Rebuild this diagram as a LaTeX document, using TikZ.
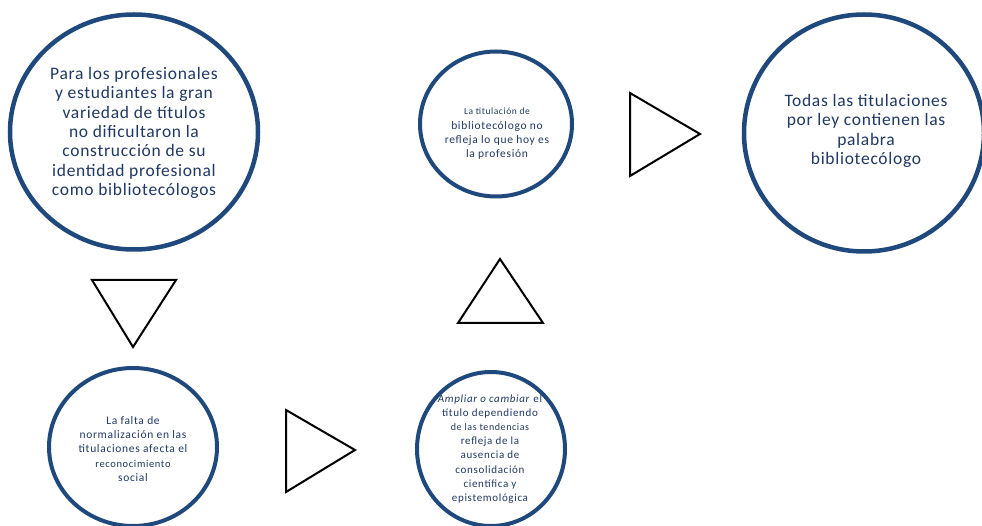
\documentclass[tikz,border=0pt]{standalone}
\usepackage{fontspec}
\setmainfont{Carlito}
\newfontfamily\bigf[LetterSpace=4]{Carlito}
\newfontfamily\smallf[LetterSpace=6]{Carlito}
\usetikzlibrary{shapes.geometric}
\definecolor{ringblue}{RGB}{31,73,125}
\definecolor{txtblue}{RGB}{32,56,100}
\tikzset{
  ring/.style={draw=ringblue, line width=4.5pt, ellipse, inner sep=0pt, fill=white},
  smallring/.style={draw=ringblue, line width=4pt, ellipse, inner sep=0pt, fill=white},
  bigtext/.style={text=txtblue, align=center, font=\bigf\fontsize{17.5}{19.4}\selectfont, inner sep=0pt},
  smalltext/.style={text=txtblue, align=center, font=\smallf\fontsize{11.5}{14.3}\selectfont, inner sep=0pt},
  tri/.style={draw=black, line width=2pt, line join=miter, fill=white}
}
\begin{document}
\begin{tikzpicture}[x=1pt,y=-1pt]
\useasboundingbox (0,0) rectangle (982,526);
% circles
\node[ring, minimum width=248pt, minimum height=235pt] (c1) at (134,132) {};
\node[smallring, minimum width=152pt, minimum height=145pt] (c2) at (496,124) {};
\node[ring, minimum width=240pt, minimum height=237pt] (c3) at (864,133) {};
\node[smallring, minimum width=168pt, minimum height=158pt] (c4) at (133,447) {};
\node[smallring, minimum width=148pt, minimum height=154pt] (c5) at (491,449) {};
% texts
\node[bigtext] (t1) at (134,133) {Para los profesionales\\ y estudiantes  la gran\\ variedad de  títulos\\ no dificultaron la\\ construcción de su\\ identidad profesional\\ como bibliotecólogos};
\node[bigtext] (t3) at (866,131) {Todas las titulaciones\\ por ley contienen las\\ palabra\\ bibliotecólogo};
\node[smalltext] (t2) at (497,134) {{\fontsize{9.5}{14}\selectfont La titulación  de}\\ bibliotecólogo   no\\ refleja lo que  hoy es\\ la profesión};
\node[smalltext] (t4) at (133,449) {La falta de\\ normalización  en las\\ titulaciones   afecta el\\ {\fontsize{10.5}{14}\selectfont reconocimiento}\\ social};
\node[smalltext, font=\smallf\fontsize{11}{14.1}\selectfont] (t5) at (490,449) {\textit{Ampliar o cambiar} el\\ título dependiendo\\ {\fontsize{10}{14}\selectfont de las tendencias}\\ refleja de la\\ ausencia de\\ consolidación\\ científica  y\\ epistemológica};
% triangles
\coordinate (d1) at (92,280); \coordinate (d2) at (176,280); \coordinate (d3) at (133,347);
\draw[tri] (d1) -- (d2) -- (d3) -- cycle;
\coordinate (r1) at (286,410); \coordinate (r2) at (286,492); \coordinate (r3) at (355,450);
\draw[tri] (r1) -- (r2) -- (r3) -- cycle;
\coordinate (u1) at (458,323); \coordinate (u2) at (543,323); \coordinate (u3) at (500,259);
\draw[tri] (u1) -- (u2) -- (u3) -- cycle;
\coordinate (s1) at (630,93); \coordinate (s2) at (630,176); \coordinate (s3) at (700,134);
\draw[tri] (s1) -- (s2) -- (s3) -- cycle;
\end{tikzpicture}
\end{document}
